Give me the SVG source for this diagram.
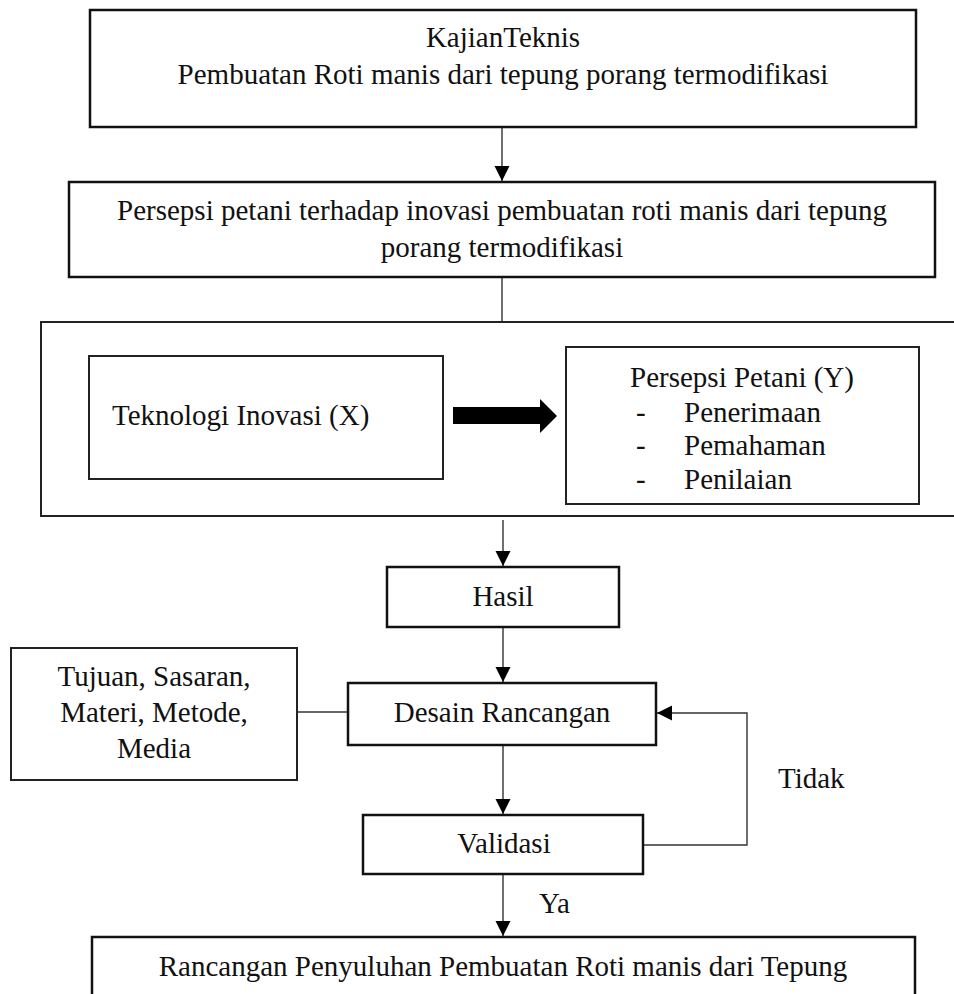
<svg xmlns="http://www.w3.org/2000/svg" width="954" height="994" viewBox="0 0 954 994">
<defs>
<marker id="arr" markerUnits="userSpaceOnUse" markerWidth="16" markerHeight="16" refX="15" refY="7.5" orient="auto">
<path d="M0,0 L15,7.5 L0,15 z" fill="#000"/>
</marker>
</defs>
<style>
text{font-family:"Liberation Serif","Times New Roman",serif;font-size:29px;fill:#111}
.c{text-anchor:middle}
.box{fill:#fff;stroke:#111;stroke-width:2.5}
.ibox{fill:#fff;stroke:#222;stroke-width:2}
.ln{fill:none;stroke:#333;stroke-width:1.4}
</style>
<rect width="954" height="994" fill="#fff"/>
<g id="outer"><rect x="41" y="322" width="930" height="194" class="ibox"/></g>
<g id="connectors">
<line x1="502" y1="128" x2="502" y2="181" class="ln" marker-end="url(#arr)"/>
<line x1="502" y1="278" x2="502" y2="321" class="ln"/>
<line x1="503" y1="520" x2="503" y2="566" class="ln" marker-end="url(#arr)"/>
<line x1="503" y1="628" x2="503" y2="682" class="ln" marker-end="url(#arr)"/>
<line x1="503" y1="746" x2="503" y2="814" class="ln" marker-end="url(#arr)"/>
<line x1="503" y1="875" x2="503" y2="936" class="ln" marker-end="url(#arr)"/>
<line x1="297" y1="712" x2="348" y2="712" class="ln"/>
<polyline points="644,845 747,845 747,713 657,713" class="ln" marker-end="url(#arr)"/>
<polygon points="453,407 540,407 540,399 557,416 540,433 540,424 453,424" fill="#000"/>
<text x="778" y="788">Tidak</text>
<text x="539" y="913">Ya</text>
</g>
<g id="kajian"><rect x="90" y="10" width="826" height="117" class="box"/>
<text x="503" y="47" class="c">KajianTeknis</text>
<text x="503" y="84" class="c">Pembuatan Roti manis dari tepung porang termodifikasi</text></g>
<g id="persepsi"><rect x="69" y="182" width="866" height="95" class="box"/>
<text x="502" y="220" class="c">Persepsi petani terhadap inovasi pembuatan roti manis dari tepung</text>
<text x="502" y="257" class="c">porang termodifikasi</text></g>
<g id="teknologi"><rect x="89" y="356" width="354" height="123" class="ibox"/>
<text x="112" y="425">Teknologi Inovasi (X)</text></g>
<g id="persepsi-petani"><rect x="566" y="347" width="353" height="157" class="ibox"/>
<text x="742" y="387" class="c">Persepsi Petani (Y)</text>
<text x="636" y="422">-</text><text x="684" y="422">Penerimaan</text>
<text x="636" y="455">-</text><text x="684" y="455">Pemahaman</text>
<text x="636" y="489">-</text><text x="684" y="489">Penilaian</text></g>
<g id="hasil"><rect x="387" y="567" width="232" height="60" class="box"/>
<text x="503" y="606" class="c">Hasil</text></g>
<g id="tujuan"><rect x="11" y="648" width="286" height="132" class="ibox"/>
<text x="154" y="686" class="c">Tujuan, Sasaran,</text>
<text x="154" y="722" class="c">Materi, Metode,</text>
<text x="154" y="758" class="c">Media</text></g>
<g id="desain"><rect x="348" y="683" width="308" height="62" class="box"/>
<text x="502" y="722" class="c">Desain Rancangan</text></g>
<g id="validasi"><rect x="363" y="815" width="280" height="59" class="box"/>
<text x="504" y="853" class="c">Validasi</text></g>
<g id="rancangan"><rect x="92" y="937" width="823" height="80" class="box"/>
<text x="503" y="976" class="c">Rancangan Penyuluhan Pembuatan Roti manis dari Tepung</text></g>
</svg>
